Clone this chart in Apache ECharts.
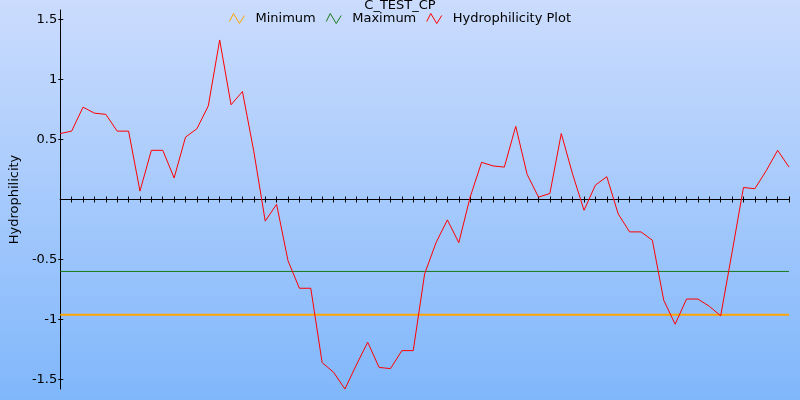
<!DOCTYPE html>
<html>
<head>
<meta charset="utf-8">
<script src="https://cdn.jsdelivr.net/npm/echarts@6/dist/echarts.min.js"></script>
<style>
html,body{margin:0;padding:0;}
#chart{width:800px;height:400px;}
</style>
</head>
<body>
<div id="chart"></div>
<script>
// Data
var titleText = 'C_TEST_CP';
var seriesNames = ['Minimum', 'Maximum', 'Hydrophilicity Plot'];
var positions = [];
for (var i = 1; i <= 65; i++) positions.push(i);
var hydrophilicity = [
  0.55, 0.57, 0.77, 0.72, 0.71, 0.57, 0.57, 0.07, 0.41, 0.41,
  0.18, 0.52, 0.59, 0.78, 1.33, 0.79, 0.90, 0.40, -0.18, -0.04,
  -0.51, -0.74, -0.74, -1.36, -1.44, -1.58, -1.38, -1.19, -1.40, -1.41,
  -1.26, -1.26, -0.62, -0.36, -0.17, -0.36, 0.02, 0.31, 0.28, 0.27,
  0.61, 0.21, 0.02, 0.05, 0.55, 0.21, -0.09, 0.12, 0.19, -0.12,
  -0.27, -0.27, -0.34, -0.84, -1.04, -0.83, -0.83, -0.89, -0.97, -0.44,
  0.10, 0.09, 0.24, 0.41, 0.27
];
var minimumLevel = [-0.96, -0.96];
var maximumLevel = [-0.60, -0.60];
var yTickValues = [-1.5, -1, -0.5, 0.5, 1, 1.5];
var yRange = [-1.58, 1.58];

var FONT = 'DejaVu Sans';
var colors = ['#ffa500', '#1a7a1a', '#ff0000'];
var iconPath = 'path://M0,8 L4,0 L10,10 L15,2';

var chart = echarts.init(document.getElementById('chart'), null, {renderer: 'canvas'});
var first = positions[0], last = positions[positions.length - 1];

var option = {
  animation: false,
  backgroundColor: {
    type: 'linear', x: 0, y: 0, x2: 0, y2: 1,
    colorStops: [{offset: 0, color: '#cbdcfd'}, {offset: 1, color: '#80b7fb'}]
  },
  title: {
    text: titleText, left: 'center', top: -1, padding: 0,
    textStyle: {fontFamily: FONT, fontSize: 13, fontWeight: 'normal', color: '#000'}
  },
  legend: {
    top: 7, left: 'center', itemWidth: 15, itemHeight: 10, itemGap: 10,
    icon: iconPath,
    textStyle: {fontFamily: FONT, fontSize: 13, color: '#000', padding: [0, 0, 0, 6]},
    data: seriesNames.map(function (n, i) {
      return {name: n, itemStyle: {color: 'transparent', borderColor: colors[i], borderWidth: 1}};
    })
  },
  grid: {left: 59, right: 11, top: 10, bottom: 11, containLabel: false},
  xAxis: [
    {
      type: 'category', data: positions, boundaryGap: false,
      axisLine: {show: true, onZero: true, lineStyle: {color: '#000', width: 1}},
      axisTick: {show: true, interval: 0, length: 3, inside: false, lineStyle: {color: '#000'}},
      axisLabel: {show: false}, splitLine: {show: false}
    },
    {
      type: 'category', data: positions, boundaryGap: false, position: 'bottom',
      axisLine: {show: true, onZero: true, lineStyle: {color: '#000', width: 1}},
      axisTick: {show: true, interval: 0, length: 3, inside: true, lineStyle: {color: '#000'}},
      axisLabel: {show: false}, splitLine: {show: false}
    }
  ],
  yAxis: [
    {
      type: 'value', min: yRange[0], max: yRange[1],
      name: 'Hydrophilicity', nameLocation: 'middle', nameGap: 37,
      nameTextStyle: {fontFamily: FONT, fontSize: 13, color: '#000'},
      axisLine: {show: true, lineStyle: {color: '#000', width: 1}},
      axisTick: {show: true, length: 2, inside: false, customValues: yTickValues, lineStyle: {color: '#000'}},
      axisLabel: {show: true, margin: 3, customValues: yTickValues, fontFamily: FONT, fontSize: 13, color: '#000',
        formatter: function (v) { return String(v); }},
      splitLine: {show: false}
    },
    {
      type: 'value', min: yRange[0], max: yRange[1], position: 'left',
      axisLine: {show: false},
      axisTick: {show: true, length: 3, inside: true, customValues: yTickValues, lineStyle: {color: '#000'}},
      axisLabel: {show: false}, splitLine: {show: false}
    }
  ],
  series: [
    {
      name: seriesNames[0], type: 'line', xAxisIndex: 0, yAxisIndex: 0, symbol: 'none',
      data: [[String(first), minimumLevel[0]], [String(last), minimumLevel[1]]],
      lineStyle: {color: colors[0], width: 2}, itemStyle: {color: colors[0]}, z: 2
    },
    {
      name: seriesNames[1], type: 'line', xAxisIndex: 0, yAxisIndex: 0, symbol: 'none',
      data: [[String(first), maximumLevel[0]], [String(last), maximumLevel[1]]],
      lineStyle: {color: colors[1], width: 1}, itemStyle: {color: colors[1]}, z: 2
    },
    {
      name: seriesNames[2], type: 'line', xAxisIndex: 0, yAxisIndex: 0, symbol: 'none',
      data: hydrophilicity,
      lineStyle: {color: colors[2], width: 1}, itemStyle: {color: colors[2]}, z: 3
    }
  ]
};
chart.setOption(option);
</script>
</body>
</html>
